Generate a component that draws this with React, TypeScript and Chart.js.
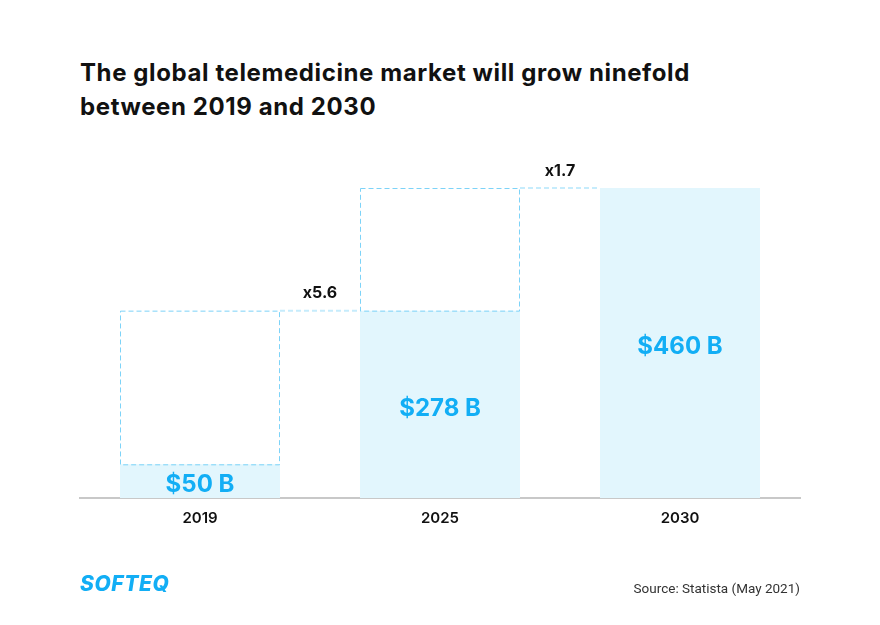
import React, { useEffect, useRef } from "react";
import { Chart, registerables } from "chart.js";

Chart.register(...registerables);

const categories = ["2019", "2025", "2030"];
const values = [50, 278, 460];
const valueLabels = ["$50 B", "$278 B", "$460 B"];
const growthLabels = ["x5.6", "x1.7"];

const BAR_COLOR = "#e2f6fd";
const DASH_COLOR = "#7dd3f8";
const LINK_COLOR = "#c6ecfc";
const LABEL_COLOR = "#12aef5";

const annotationPlugin = {
  id: "growthAnnotations",
  afterDatasetsDraw(chart: any) {
    const ctx = chart.ctx;
    const meta = chart.getDatasetMeta(0);
    const y = chart.scales.y;
    ctx.save();
    for (let i = 0; i < values.length - 1; i++) {
      const bar = meta.data[i];
      const next = meta.data[i + 1];
      const half = bar.width / 2;
      const left = bar.x - half;
      const right = bar.x + half;
      const yTop = y.getPixelForValue(values[i + 1]);
      const yBot = y.getPixelForValue(values[i]);
      ctx.strokeStyle = DASH_COLOR;
      ctx.lineWidth = 1;
      ctx.setLineDash([5, 3]);
      ctx.strokeRect(left + 0.5, yTop + 0.5, right - left - 1, yBot - yTop);
      const nLeft = next.x - next.width / 2;
      ctx.strokeStyle = LINK_COLOR;
      ctx.lineWidth = 2;
      ctx.setLineDash([5, 3]);
      ctx.beginPath();
      ctx.moveTo(right, yTop);
      ctx.lineTo(nLeft, yTop);
      ctx.stroke();
      ctx.setLineDash([]);
      ctx.fillStyle = "#111";
      ctx.font = "bold 16px Inter";
      ctx.textAlign = "center";
      ctx.textBaseline = "middle";
      ctx.fillText(growthLabels[i], (right + nLeft) / 2, yTop - 17);
    }
    ctx.setLineDash([]);
    ctx.fillStyle = LABEL_COLOR;
    ctx.font = "bold 24px Inter";
    ctx.textAlign = "center";
    ctx.textBaseline = "middle";
    const base = y.getPixelForValue(0);
    for (let i = 0; i < values.length; i++) {
      const bar = meta.data[i];
      const top = y.getPixelForValue(values[i]);
      ctx.fillText(valueLabels[i], bar.x, (top + base) / 2 + 4);
    }
    ctx.restore();
  },
};

export default function App() {
  const ref = useRef<HTMLCanvasElement | null>(null);
  useEffect(() => {
    if (!ref.current) return;
    const chart = new Chart(ref.current, {
      type: "bar",
      data: {
        labels: categories,
        datasets: [
          {
            data: values,
            backgroundColor: BAR_COLOR,
            borderWidth: 0,
            categoryPercentage: 1,
            barPercentage: 2 / 3,
          },
        ],
      },
      options: {
        animation: false,
        responsive: false,
        maintainAspectRatio: false,
        layout: { padding: { left: 80, right: 80, top: 188, bottom: 87 } },
        plugins: { legend: { display: false }, tooltip: { enabled: false }, title: { display: false } },
        scales: {
          x: {
            grid: { display: false, drawTicks: false },
            border: { display: true, color: "#c8c8c8", width: 2 },
            ticks: { color: "#111", font: { family: "Inter", size: 15, weight: 600 }, padding: 11 },
          },
          y: { display: false, min: 0, max: 460 },
        },
      },
      plugins: [annotationPlugin],
    });
    return () => chart.destroy();
  }, []);

  return (
    <div style={{ position: "absolute", left: 0, top: 0, width: 880, height: 625, background: "#fff", overflow: "hidden" }}>
      <div
        style={{
          position: "absolute",
          left: 80,
          top: 56,
          fontFamily: "Inter",
          fontWeight: 700,
          fontSize: 24,
          lineHeight: "34px",
          color: "#111",
          letterSpacing: 0.6,
          whiteSpace: "nowrap",
        }}
      >
        The global telemedicine market will grow ninefold
        <br />
        between 2019 and 2030
      </div>
      <canvas ref={ref} width={880} height={625} style={{ position: "absolute", left: 0, top: 0, width: 880, height: 625 }} />
      <div
        style={{
          position: "absolute",
          left: 80,
          top: 571,
          fontFamily: "Inter",
          fontWeight: 800,
          fontStyle: "italic",
          fontSize: 21,
          color: LABEL_COLOR,
          letterSpacing: 0.6,
        }}
      >
        SOFTEQ
      </div>
      <div
        style={{
          position: "absolute",
          right: 80,
          top: 580,
          fontFamily: "Roboto",
          fontSize: 13.5,
          color: "#333",
        }}
      >
        Source: Statista (May 2021)
      </div>
    </div>
  );
}
